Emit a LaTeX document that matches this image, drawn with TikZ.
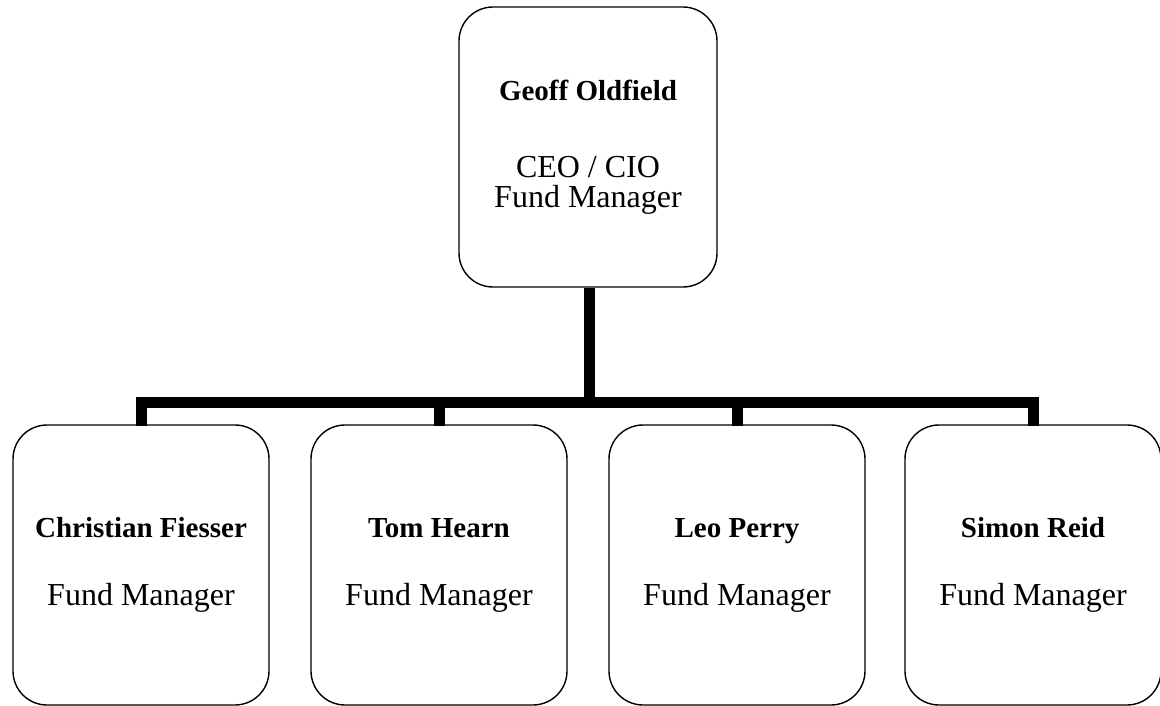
\documentclass[tikz,border=0pt]{standalone}
\usepackage{fontspec}
\setmainfont{Liberation Serif}
\begin{document}
\begin{tikzpicture}[x=1pt,y=-1pt,
  person/.style={draw=black,line width=1.4pt,rounded corners=34pt,minimum width=256pt,minimum height=280pt,align=center,inner sep=0pt,font=\fontsize{32}{38}\selectfont},
  conn/.style={draw=black,line width=11pt,line join=miter},
  nm/.style={}]
\useasboundingbox (0,0) rectangle (1160,706);
\fill[white] (0,0) rectangle (1160,706);
\node[person,minimum width=258pt,font=\fontsize{32}{30}\selectfont] (top) at (588,147) {{\fontsize{29}{30}\selectfont\bfseries Geoff Oldfield}\\[47pt]CEO / CIO\\Fund Manager};
\node[person] (c1) at (141,565) {{\fontsize{29}{38}\selectfont\bfseries Christian Fiesser}\\[30pt]Fund Manager};
\node[person] (c2) at (439,565) {{\fontsize{29}{38}\selectfont\bfseries Tom Hearn}\\[30pt]Fund Manager};
\node[person] (c3) at (737,565) {{\fontsize{29}{38}\selectfont\bfseries Leo Perry}\\[30pt]Fund Manager};
\node[person] (c4) at (1033,565) {{\fontsize{29}{38}\selectfont\bfseries Simon Reid}\\[30pt]Fund Manager};
\coordinate (j) at (589,402.5);
\draw[conn] (top.south -| j) -- (j);
\draw[conn] ([yshift=-2pt]c1.north) |- (j) -| ([yshift=-2pt]c4.north);
\draw[conn] ([yshift=-2pt]c2.north) -- (c2.north |- j);
\draw[conn] ([yshift=-2pt]c3.north) -- (c3.north |- j);
\end{tikzpicture}
\end{document}
